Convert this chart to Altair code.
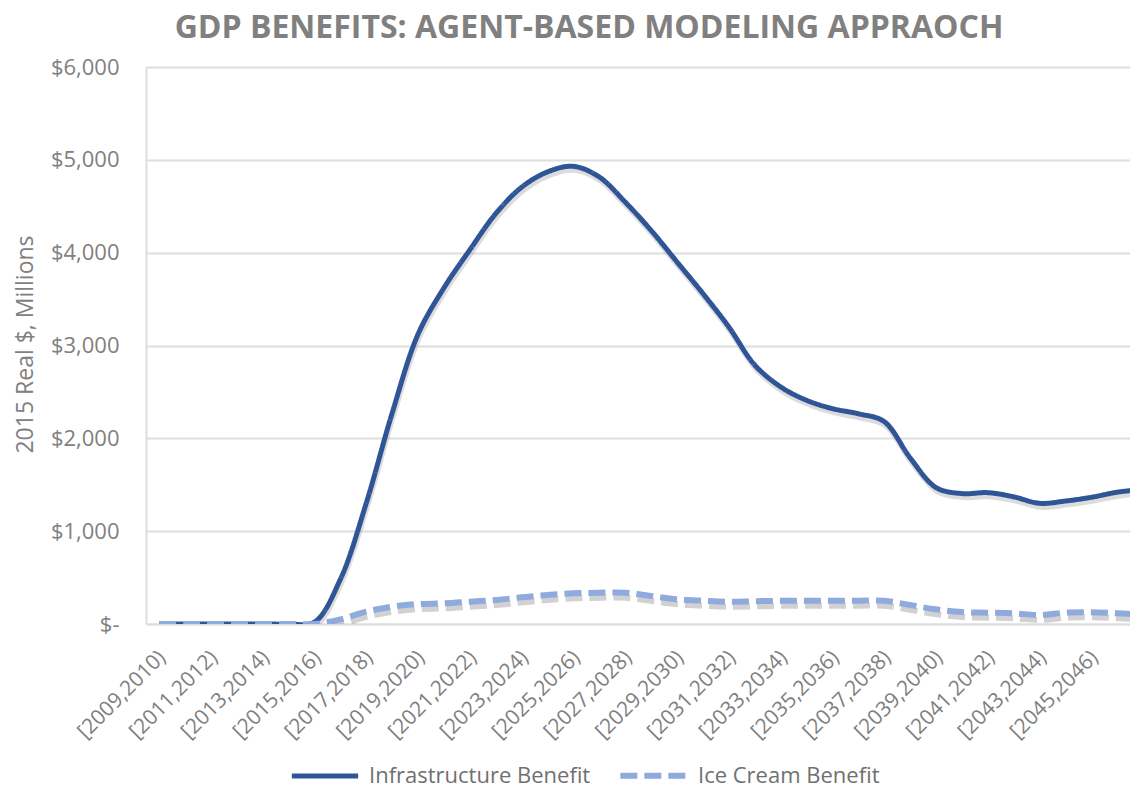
import json
import altair as alt
import pandas as pd

periods = [f"[{y},{y+1})" for y in range(2009, 2048)]

infrastructure = [0, 0, 0, 0, 0, 0, 20, 480, 1300, 2270, 3120, 3620, 4030, 4420, 4705,
                  4870, 4930, 4815, 4545, 4240, 3900, 3560, 3200, 2790, 2555, 2410, 2320,
                  2265, 2180, 1790, 1470, 1405, 1415, 1370, 1300, 1325, 1365, 1420, 1450]

ice_cream = [0, 0, 0, 0, 0, 0, 0, 50, 133, 186, 215, 222, 240, 258, 287, 312, 330, 337,
             337, 301, 266, 251, 240, 245, 250, 251, 251, 251, 251, 204, 158, 129, 122,
             115, 97, 122, 126, 115, 100]

series = ["Infrastructure Benefit", "Ice Cream Benefit"]
colors = ["#2F5597", "#8FAADC"]
y_ticks = [0, 1000, 2000, 3000, 4000, 5000, 6000]

rows = []
for s, vals in zip(series, [infrastructure, ice_cream]):
    for i, (p, v) in enumerate(zip(periods, vals)):
        rows.append({"idx": i, "period": p, "value": v, "series": s, "order": series.index(s)})
df = pd.DataFrame(rows)

FONT = "Open Sans"
GRAY = "#808080"
DASH = [17, 7]

x_enc = alt.X(
    "idx:Q",
    scale=alt.Scale(domain=[-0.502, 37.49], nice=False, zero=False),
    axis=alt.Axis(
        values=list(range(0, len(periods), 2)),
        labelExpr=json.dumps(periods) + "[datum.value]",
        labelAngle=-45, labelAlign="right", labelBaseline="middle",
        labelPadding=30, labelOffset=3, labelFontSize=21, labelFont=FONT, labelColor=GRAY,
        grid=False, ticks=False, domain=True, domainColor="#dedede", domainWidth=2,
        title=None, labelOverlap=False, labelBound=False, labelFlush=False,
    ),
)
y_enc = alt.Y(
    "value:Q",
    scale=alt.Scale(domain=[0, 6000], nice=False),
    axis=alt.Axis(
        values=y_ticks,
        labelExpr="datum.value == 0 ? '$-\u00a0\u00a0\u00a0' : '$' + format(datum.value, ',')",
        labelFontSize=22, labelFont=FONT, labelColor=GRAY, labelPadding=27,
        grid=True, gridColor="#dedede", gridWidth=2, ticks=False,
        domain=True, domainColor="#dedede", domainWidth=2,
        title="2015 Real $, Millions", titleFont=FONT, titleFontSize=23,
        titleFontWeight="normal", titleColor=GRAY, titleAngle=-90,
        titleX=-121, titleY=277, titleAlign="center", titleBaseline="middle",
    ),
)

base = alt.Chart(df)

shadow_solid = base.transform_filter(alt.datum.series == series[0]).mark_line(
    color="#9a9a9a", opacity=0.35, strokeWidth=5, interpolate="catmull-rom",
    yOffset=4, xOffset=1, clip=True
).encode(x=x_enc, y=y_enc)

shadow_dash = base.transform_filter(alt.datum.series == series[1]).mark_line(
    color="#9a9a9a", opacity=0.45, strokeWidth=6, interpolate="catmull-rom",
    yOffset=5, xOffset=1, strokeDash=DASH, clip=True
).encode(x=x_enc, y=y_enc)

lines = base.mark_line(interpolate="catmull-rom", clip=True).encode(
    x=x_enc,
    y=y_enc,
    color=alt.Color("series:N", scale=alt.Scale(domain=series, range=colors),
                    legend=alt.Legend(
                        title=None, orient="none", direction="horizontal",
                        legendX=143, legendY=672,
                        symbolType="stroke", symbolSize=4400, symbolStrokeWidth=5,
                        labelFont=FONT, labelFontSize=22, labelColor="#707070",
                        labelLimit=400, columnPadding=17, labelOffset=8,
                    )),
    strokeDash=alt.StrokeDash("series:N", scale=alt.Scale(domain=series, range=[[1, 0], DASH]),
                              legend=None),
    strokeWidth=alt.StrokeWidth("series:N", scale=alt.Scale(domain=series, range=[5, 6]),
                                legend=None),
    order=alt.Order("order:Q"),
)

chart = alt.layer(shadow_solid, shadow_dash, lines).properties(
    width=984, height=557,
    autosize=alt.AutoSizeParams(type="none"),
    padding={"left": 138, "top": 59, "right": 0, "bottom": 162},
    title=alt.TitleParams(
        text="GDP BENEFITS: AGENT-BASED MODELING APPRAOCH",
        font=FONT, fontSize=32, fontWeight="bold", color=GRAY,
        anchor="middle", dx=-49, offset=11,
    ),
).configure_view(stroke=None)

chart.save("out.html", embed_options={"renderer": "svg", "actions": False})
